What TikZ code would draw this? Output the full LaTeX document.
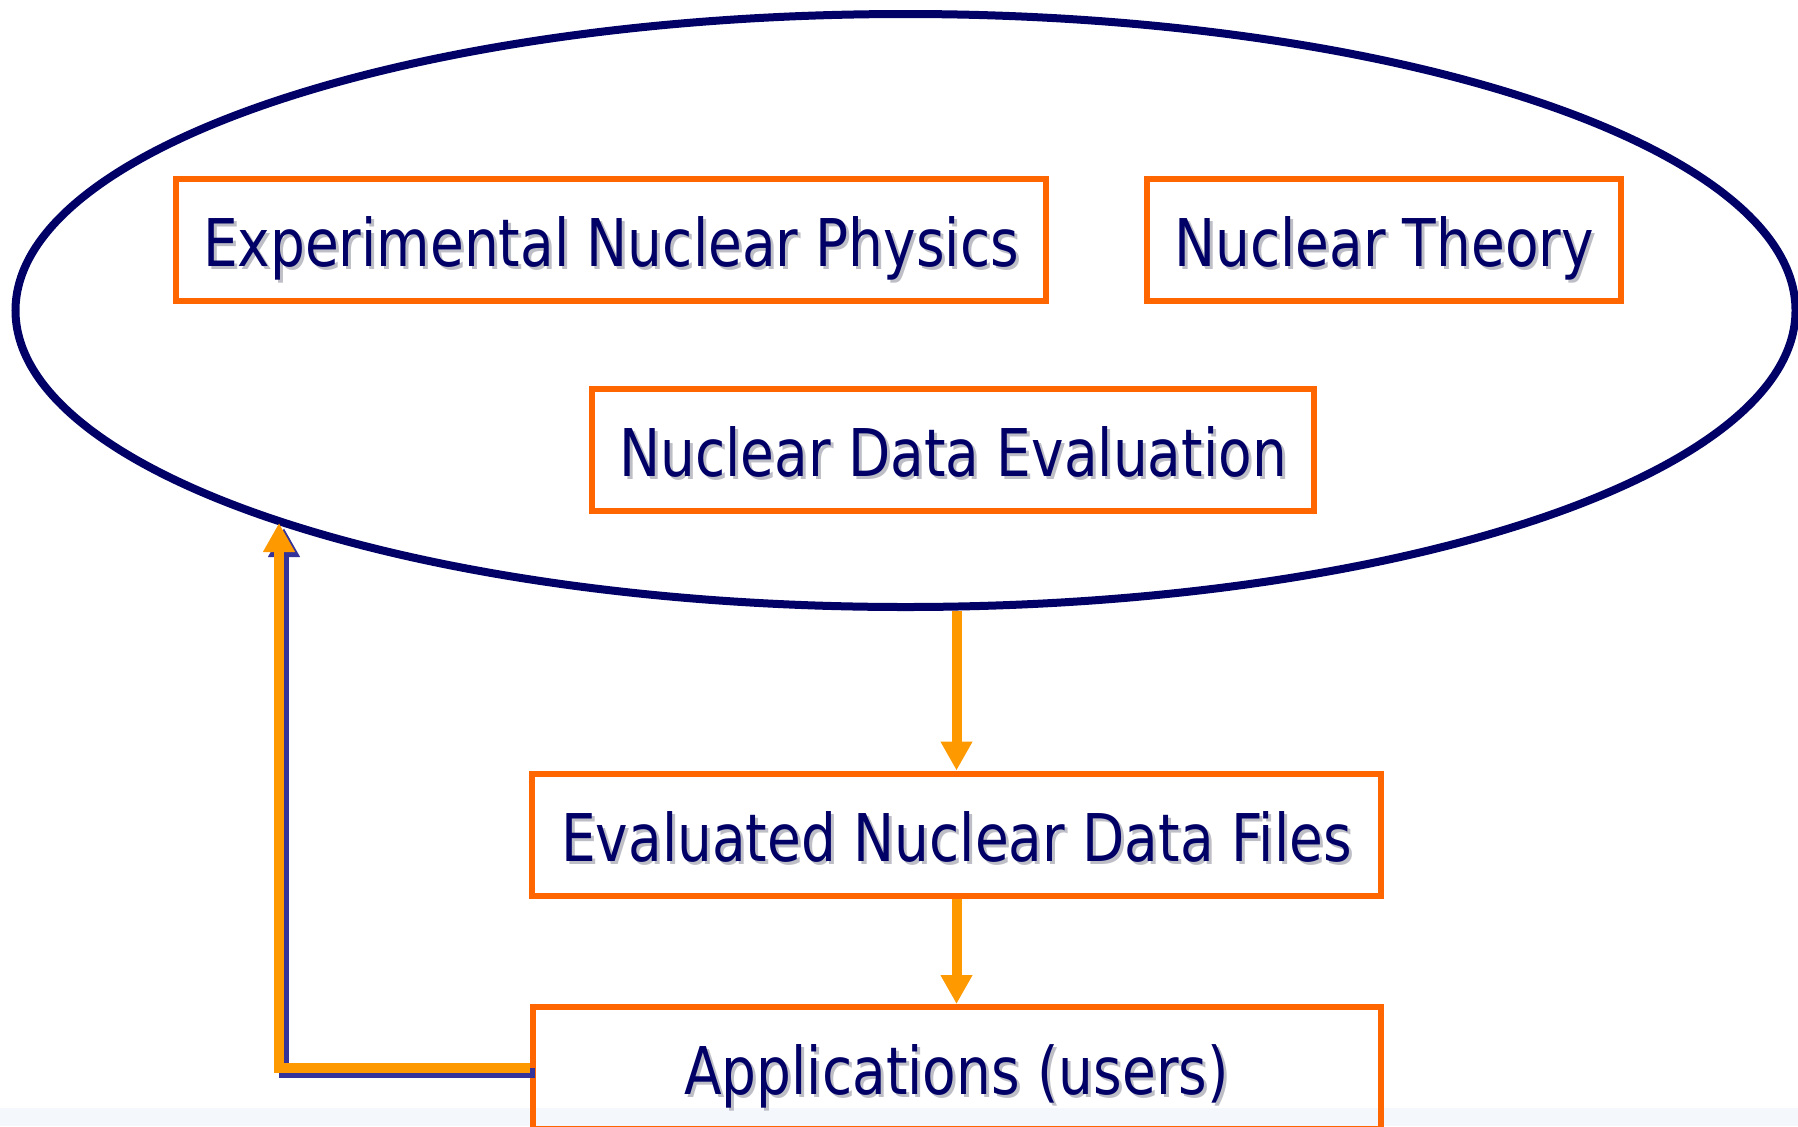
\documentclass[tikz,border=0pt]{standalone}
\usepackage{fontspec}
\setmainfont[FakeStretch=0.835]{DejaVu Sans}
\usetikzlibrary{positioning,shapes.geometric,arrows.meta}
\definecolor{navy}{HTML}{000066}
\definecolor{boxorange}{HTML}{FF6600}
\definecolor{arroworange}{HTML}{FF9900}
\definecolor{arrowshadow}{HTML}{333399}
\definecolor{textshadow}{HTML}{BEBEC6}
\definecolor{band}{HTML}{F4F8FC}
% text with a grey drop shadow
\newcommand{\shtext}[1]{\rlap{\kern1.5pt\raisebox{-1.5pt}{\textcolor{textshadow}{#1}}}#1}

\begin{document}
\begin{tikzpicture}[x=0.5pt,y=-0.5pt,on grid,
  box/.style={draw=boxorange,line width=3pt,inner sep=0pt,minimum height=61pt,
    text=navy,font=\fontsize{32.9}{40}\selectfont,text height=26.7pt,text depth=0pt},
  flow/.style={arroworange,line width=5pt,-{Triangle[width=15pt,length=14.5pt]}}]
  \useasboundingbox (0,0) rectangle (1798,1126);
  \clip (0,0) rectangle (1798,1126);
  \fill[band] (0,1108) rectangle (1798,1126);
  \node[ellipse,draw=navy,line width=4pt,minimum width=890pt,minimum height=296.5pt,inner sep=0pt] (field) at (905.5,310.5) {};
  \node[box,minimum width=435pt] (exp) at (611,240) {\shtext{Experimental Nuclear Physics}};
  \node[box,minimum width=237pt,right=386.5pt of exp] (th) {\shtext{Nuclear Theory}};
  \node[box,minimum width=361pt] (eval) at (953,450) {\shtext{Nuclear Data Evaluation}};
  \node[box,minimum width=424.5pt,below=192.25pt of eval,xshift=1.75pt] (files) {\shtext{Evaluated Nuclear Data Files}};
  \node[box,minimum width=424pt,below=116.75pt of files] (apps) {\shtext{Applications (users)}};
  % where the feedback meets the ring
  \coordinate (back) at (279,523);
  \draw[flow] (files.north |- field.south) -- (files.north);
  \draw[flow] (files) -- (apps);
  % feedback from the users, with its shadow
  \draw[flow,arrowshadow,transform canvas={xshift=2.5pt,yshift=-2.5pt}] (apps.west) -| (back);
  \draw[flow] (apps.west) -| (back);
\end{tikzpicture}
\end{document}
